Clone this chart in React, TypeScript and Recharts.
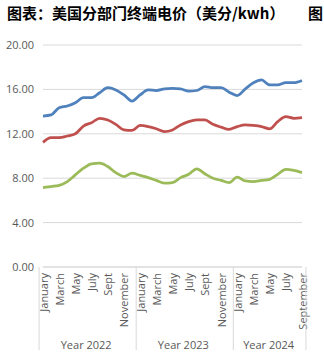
import { LineChart, Line, XAxis, YAxis, CartesianGrid } from 'recharts'

const months = [
  'Jan22', 'Feb22', 'Mar22', 'Apr22', 'May22', 'Jun22', 'Jul22', 'Aug22', 'Sep22', 'Oct22', 'Nov22', 'Dec22',
  'Jan23', 'Feb23', 'Mar23', 'Apr23', 'May23', 'Jun23', 'Jul23', 'Aug23', 'Sep23', 'Oct23', 'Nov23', 'Dec23',
  'Jan24', 'Feb24', 'Mar24', 'Apr24', 'May24', 'Jun24', 'Jul24', 'Aug24', 'Sep24',
]

// labels shown under the axis ('' = no label)
const tickLabels = [
  'January', '', 'March', '', 'May', '', 'July', '', 'Sept', '', 'November', '',
  'January', '', 'March', '', 'May', '', 'July', '', 'Sept', '', 'November', '',
  'January', '', 'March', '', 'May', '', 'July', '', 'September',
]

const years = ['Year 2022', 'Year 2023', 'Year 2024']
const yearCounts = [12, 12, 9]

const blueSeries = [
  13.6, 13.7, 14.35, 14.5, 14.8, 15.25, 15.25, 15.7, 16.15, 15.95, 15.5, 14.95,
  15.5, 15.95, 15.9, 16.05, 16.1, 16.05, 15.85, 15.9, 16.25, 16.15, 16.15, 15.75,
  15.45, 16.05, 16.6, 16.85, 16.4, 16.4, 16.6, 16.6, 16.8,
]
const redSeries = [
  11.23, 11.65, 11.65, 11.8, 12.0, 12.7, 13.0, 13.4, 13.25, 12.85, 12.35, 12.3,
  12.75, 12.65, 12.45, 12.2, 12.35, 12.8, 13.1, 13.25, 13.25, 12.85, 12.6, 12.4,
  12.65, 12.8, 12.75, 12.65, 12.45, 13.1, 13.55, 13.4, 13.45,
]
const greenSeries = [
  7.15, 7.25, 7.35, 7.7, 8.3, 8.9, 9.3, 9.35, 9.05, 8.5, 8.15, 8.45,
  8.25, 8.05, 7.8, 7.55, 7.6, 8.05, 8.35, 8.85, 8.4, 8.0, 7.8, 7.6,
  8.1, 7.75, 7.7, 7.8, 7.9, 8.35, 8.8, 8.7, 8.5,
]

const yTicks = [0, 4, 8, 12, 16, 20]

const data = months.map((m, i) => ({
  month: m,
  blue: blueSeries[i],
  red: redSeries[i],
  green: greenSeries[i],
}))

const yearStarts = yearCounts.map((_, k) => yearCounts.slice(0, k).reduce((a, b) => a + b, 0))

const W = 324
const H = 362
const M = { top: 45, right: 22, left: 0, bottom: 0 }
const Y_W = 43
const TEXT = '#595959'
const GRID = '#d9d9d9'
const FONT = '"Open Sans", "Noto Sans", sans-serif'

const MonthTick = (props: any) => {
  const { x, y, payload, index } = props
  const i = typeof index === 'number' ? index : payload.index
  const bw = (W - Y_W - M.left - M.right) / months.length
  const half = payload && typeof payload.offset === 'number' && payload.offset > 0 ? payload.offset : bw / 2
  const label = tickLabels[i]
  const k = yearStarts.indexOf(i)
  return (
    <g>
      {label && (
        <text
          x={x}
          y={y + 6}
          transform={`rotate(-90 ${x} ${y + 6})`}
          textAnchor="end"
          dominantBaseline="central"
          fill={TEXT}
          fontSize={11}
          fontFamily={FONT}
        >
          {label}
        </text>
      )}
      {k >= 0 && (
        <>
          <line x1={x - half} x2={x - half} y1={y} y2={y + 83} stroke={GRID} />
          <text
            x={x - half + yearCounts[k] * half}
            y={y + 82}
            textAnchor="middle"
            fill={TEXT}
            fontSize={11}
            fontFamily={FONT}
          >
            {years[k]}
          </text>
        </>
      )}
      {i === months.length - 1 && (
        <line x1={x + half} x2={x + half} y1={y} y2={y + 83} stroke={GRID} />
      )}
    </g>
  )
}

export default function App() {
  return (
    <div style={{ position: 'fixed', left: 0, top: 0, width: W, height: H, background: '#fff', overflow: 'hidden' }}>
      <div
        style={{
          position: 'absolute',
          left: 7,
          top: 5,
          fontSize: 15,
          lineHeight: '15px',
          fontWeight: 700,
          fontFamily: '"Noto Sans CJK SC", sans-serif',
          color: '#000',
          whiteSpace: 'nowrap',
        }}
      >
        图表：美国分部门终端电价（美分/kwh）
      </div>
      {/* start of the neighbouring chart's title, kept inside the frame */}
      <div
        style={{
          position: 'absolute',
          left: 308,
          top: 5,
          fontSize: 15,
          lineHeight: '15px',
          fontWeight: 700,
          fontFamily: '"Noto Sans CJK SC", sans-serif',
          color: '#000',
          whiteSpace: 'nowrap',
        }}
      >
        图
      </div>
      <LineChart width={W} height={H} data={data} margin={M}>
        <CartesianGrid vertical={false} stroke={GRID} />
        <XAxis
          dataKey="month"
          interval={0}
          tickLine={false}
          tickSize={0}
          tickMargin={0}
          axisLine={{ stroke: GRID }}
          height={95}
          tick={<MonthTick />}
        />
        <YAxis
          width={Y_W}
          domain={[0, 20]}
          ticks={yTicks}
          axisLine={false}
          tickLine={false}
          tickSize={0}
          tickMargin={9}
          tickFormatter={(v: number) => v.toFixed(2)}
          tick={{ fill: TEXT, fontSize: 11, fontFamily: FONT }}
        />
        <Line type="monotone" dataKey="blue" stroke="#4f81bd" strokeWidth={2.75} dot={false} isAnimationActive={false} />
        <Line type="monotone" dataKey="red" stroke="#c0504d" strokeWidth={2.75} dot={false} isAnimationActive={false} />
        <Line type="monotone" dataKey="green" stroke="#9bbb59" strokeWidth={2.75} dot={false} isAnimationActive={false} />
      </LineChart>
    </div>
  )
}
